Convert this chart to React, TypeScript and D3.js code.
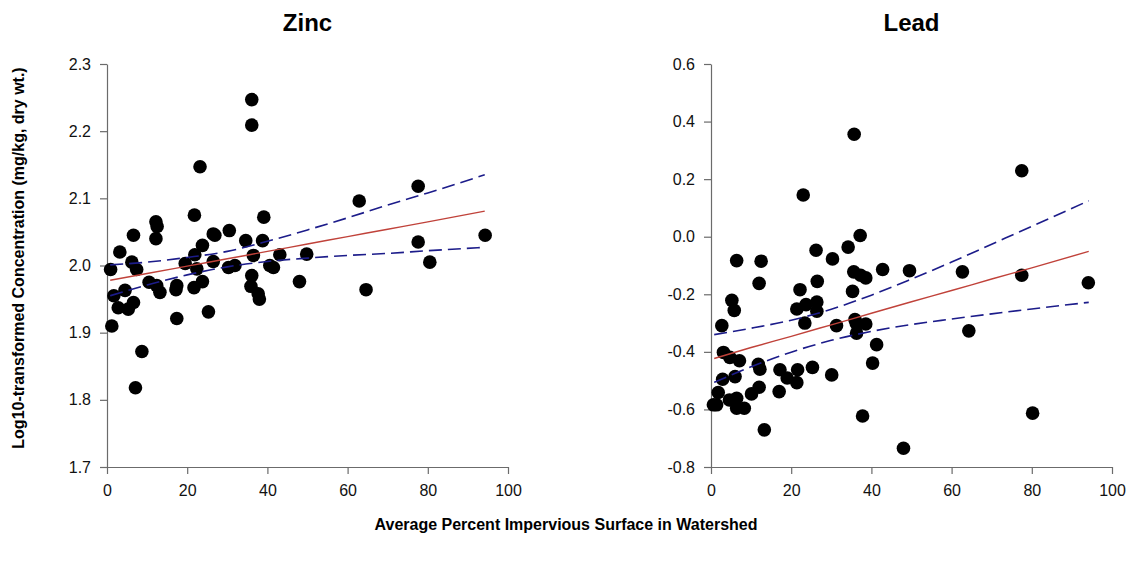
import React, { useEffect, useRef } from 'react';
import * as d3 from 'd3';

// Zinc: log10 concentration vs % impervious surface
const zincX = [0.9, 1.2, 1.7, 2.8, 3.2, 4.5, 5.3, 6.2, 6.6, 6.6, 7.1, 7.4, 8.7, 10.5, 12.2, 12.5, 12.2, 12.4, 13.2, 17.2, 17.4, 17.4, 19.5, 21.7, 21.8, 21.9, 22.4, 23.2, 23.8, 23.8, 25.3, 26.5, 26.9, 26.5, 30.3, 30.5, 31.9, 34.6, 35.9, 36.1, 36.1, 36.1, 36.5, 37.7, 38.0, 38.8, 39.1, 40.6, 41.5, 43.1, 48.0, 49.8, 62.9, 64.6, 77.6, 77.6, 80.5, 94.3];
const zincY = [1.994, 1.910, 1.955, 1.937, 2.020, 1.963, 1.935, 2.005, 2.045, 1.945, 1.818, 1.994, 1.872, 1.975, 2.065, 2.058, 2.040, 1.970, 1.960, 1.964, 1.970, 1.921, 2.003, 1.967, 2.075, 2.016, 1.995, 2.147, 2.030, 1.976, 1.931, 2.047, 2.045, 2.006, 1.997, 2.052, 2.000, 2.037, 1.969, 2.247, 2.209, 1.985, 2.015, 1.958, 1.950, 2.037, 2.072, 2.000, 1.997, 2.016, 1.976, 2.017, 2.096, 1.964, 2.118, 2.035, 2.005, 2.045];

// Lead
const leadX = [0.6, 1.4, 1.8, 2.7, 2.9, 3.1, 4.6, 4.7, 5.2, 5.8, 6.0, 6.4, 6.4, 6.4, 7.1, 8.3, 10.1, 11.8, 12.0, 12.2, 12.0, 12.5, 13.3, 17.0, 17.2, 19.0, 21.4, 21.4, 21.6, 22.2, 23.0, 23.4, 23.7, 25.3, 26.2, 26.4, 26.4, 26.5, 30.1, 30.3, 31.3, 34.2, 35.3, 35.6, 35.7, 35.9, 36.2, 36.3, 37.3, 37.2, 37.8, 38.6, 38.6, 40.3, 41.3, 42.8, 48.0, 49.5, 62.7, 64.3, 77.5, 77.5, 80.2, 94.1];
const leadY = [-0.584, -0.584, -0.541, -0.309, -0.495, -0.402, -0.567, -0.419, -0.221, -0.256, -0.486, -0.083, -0.561, -0.596, -0.431, -0.596, -0.546, -0.443, -0.523, -0.460, -0.162, -0.085, -0.671, -0.538, -0.462, -0.491, -0.251, -0.507, -0.462, -0.184, 0.145, -0.300, -0.236, -0.454, -0.047, -0.227, -0.259, -0.155, -0.480, -0.077, -0.309, -0.036, -0.190, -0.122, 0.356, -0.288, -0.300, -0.335, -0.134, 0.004, -0.623, -0.143, -0.303, -0.439, -0.375, -0.114, -0.735, -0.118, -0.122, -0.327, 0.229, -0.134, -0.613, -0.160];

// regression line and 95% confidence bands
const fitX = [0.8, 10, 20, 30, 40, 50, 60, 70, 80, 94.2];
const zincFit = [1.978, 1.988, 1.999, 2.010, 2.021, 2.032, 2.043, 2.054, 2.065, 2.081];
const zincUpper = [2.001, 2.005, 2.012, 2.021, 2.036, 2.053, 2.071, 2.090, 2.108, 2.135];
const zincLower = [1.955, 1.971, 1.986, 1.998, 2.006, 2.011, 2.015, 2.018, 2.022, 2.027];
const leadFit = [-0.423, -0.385, -0.346, -0.306, -0.266, -0.226, -0.187, -0.147, -0.108, -0.051];
const leadUpper = [-0.340, -0.318, -0.290, -0.252, -0.203, -0.147, -0.088, -0.026, 0.036, 0.125];
const leadLower = [-0.506, -0.452, -0.401, -0.360, -0.329, -0.305, -0.286, -0.268, -0.251, -0.228];

const xTicks = [0, 20, 40, 60, 80, 100];
const zincTicks = [1.7, 1.8, 1.9, 2.0, 2.1, 2.2, 2.3];
const leadTicks = [-0.8, -0.6, -0.4, -0.2, 0.0, 0.2, 0.4, 0.6];

const FONT = "'Liberation Sans', Arial, sans-serif";

const panels = [
  { title: 'Zinc', xs: zincX, ys: zincY, fit: zincFit, up: zincUpper, lo: zincLower, yTicks: zincTicks, domain: [1.7, 2.3], left: 107 },
  { title: 'Lead', xs: leadX, ys: leadY, fit: leadFit, up: leadUpper, lo: leadLower, yTicks: leadTicks, domain: [-0.8, 0.6], left: 711 },
];

const App = () => {
  const svgRef = useRef<SVGSVGElement>(null);

  useEffect(() => {
    const w = 1133;
    const h = 566;
    const svg = d3.select(svgRef.current).attr('width', w).attr('height', h);
    svg.selectAll('*').remove();

    const top = 64;
    const bottom = 467;
    const plotW = 401;

    panels.forEach((p) => {
      const x = d3.scaleLinear().domain([0, 100]).range([p.left, p.left + plotW]);
      const y = d3.scaleLinear().domain(p.domain).range([bottom, top]);
      const g = svg.append('g');

      const xAxis = d3.axisBottom(x).tickValues(xTicks).tickSize(7).tickPadding(11).tickSizeOuter(0).tickFormat(d3.format('d'));
      const yAxis = d3.axisLeft(y).tickValues(p.yTicks).tickSize(7).tickPadding(9).tickSizeOuter(0)
        .tickFormat((d: any) => (+d).toFixed(1));

      const ax = g.append('g').attr('transform', `translate(0,${bottom})`).call(xAxis);
      const ay = g.append('g').attr('transform', `translate(${p.left},0)`).call(yAxis);
      [ax, ay].forEach((a) => {
        a.selectAll('path, line').attr('stroke', '#6b6b6b').attr('stroke-width', 1.2);
        a.selectAll('text').attr('fill', '#111').style('font-size', '16px').style('font-family', FONT);
      });

      // points
      g.selectAll('.dot')
        .data(p.xs.map((v, i) => [v, p.ys[i]]))
        .join('circle')
        .attr('cx', (d) => x(d[0]))
        .attr('cy', (d) => y(d[1]))
        .attr('r', 6.8)
        .attr('fill', '#000');

      const line = (vals: number[]) =>
        d3.line<number>().x((_, i) => x(fitX[i])).y((d) => y(d)).curve(d3.curveMonotoneX)(vals);

      g.append('path').attr('d', line(p.up)).attr('fill', 'none').attr('stroke', '#1c1c8a')
        .attr('stroke-width', 1.6).attr('stroke-dasharray', '13,6');
      g.append('path').attr('d', line(p.lo)).attr('fill', 'none').attr('stroke', '#1c1c8a')
        .attr('stroke-width', 1.6).attr('stroke-dasharray', '13,6');
      g.append('path').attr('d', line(p.fit)).attr('fill', 'none').attr('stroke', '#c0423a')
        .attr('stroke-width', 1.4);

      g.append('text')
        .attr('x', p.left + plotW / 2)
        .attr('y', 31)
        .style('text-anchor', 'middle')
        .style('font-family', FONT)
        .style('font-weight', 'bold')
        .style('font-size', '24px')
        .text(p.title);
    });

    svg.append('text')
      .attr('transform', 'rotate(-90)')
      .attr('x', -258)
      .attr('y', 24)
      .style('text-anchor', 'middle')
      .style('font-family', FONT)
      .style('font-weight', 'bold')
      .style('font-size', '16px')
      .text('Log10-transformed Concentration (mg/kg, dry wt.)');

    svg.append('text')
      .attr('x', 566)
      .attr('y', 530)
      .style('text-anchor', 'middle')
      .style('font-family', FONT)
      .style('font-weight', 'bold')
      .style('font-size', '16px')
      .text('Average Percent Impervious Surface in Watershed');
  }, []);

  return (
    <div style={{ position: 'absolute', left: 0, top: 0, background: '#fff' }}>
      <svg ref={svgRef} style={{ display: 'block' }}></svg>
    </div>
  );
};

export default App;
